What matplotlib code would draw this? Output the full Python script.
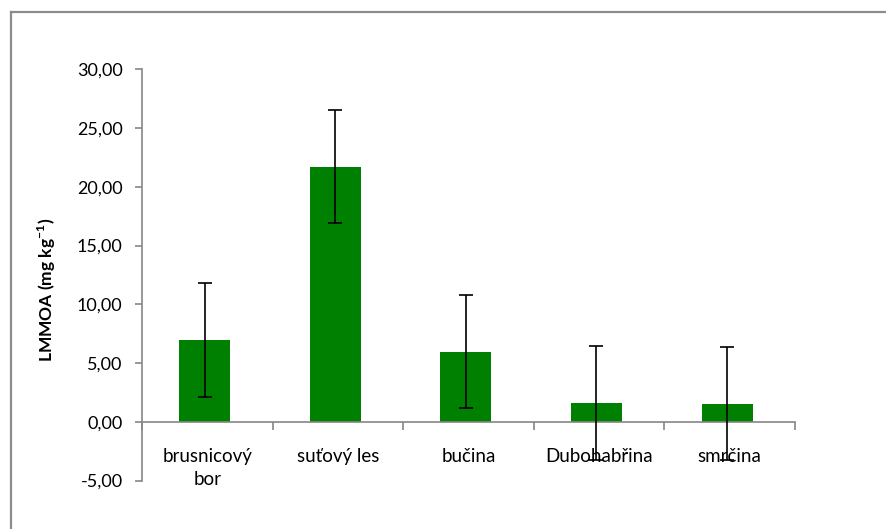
import matplotlib
matplotlib.use("Agg")
import matplotlib.pyplot as plt
from matplotlib.lines import Line2D
import numpy as np

categories = ["brusnicový\nbor", "suťový les", "bučina", "Dubohabřina", "smrčina"]
means = [6.93, 21.70, 5.95, 1.59, 1.55]
errors = [4.85, 4.80, 4.80, 4.87, 4.80]
yticks = [-5, 0, 5, 10, 15, 20, 25, 30]
ylabel = "LMMOA (mg kg$^{\\mathbf{-1}}$)"

plt.rcParams["font.family"] = ["Lato", "DejaVu Sans"]
plt.rcParams["mathtext.fontset"] = "custom"
plt.rcParams["mathtext.bf"] = "Lato:bold"
plt.rcParams["mathtext.rm"] = "Lato"

W, H = 886, 529
fig = plt.figure(figsize=(W / 100, H / 100), dpi=100)
fig.patch.set_facecolor("white")

# outer chart frame (top and left edges visible)
frame_col = "#8c8c8c"
fig.add_artist(Line2D([11 / W, 1.0], [1 - 12 / H, 1 - 12 / H], color=frame_col, lw=1.6))
fig.add_artist(Line2D([11 / W, 11 / W], [1 - 12 / H, 0.0], color=frame_col, lw=1.6))

left, right = 142 / W, 795 / W
bottom, top = 1 - 480.5 / H, 1 - 69.3 / H
ax = fig.add_axes([left, bottom, right - left, top - bottom])

x = np.arange(len(categories))
ax.bar(x - 0.02, means, width=0.39, color="#008000", zorder=2)
ax.errorbar(x - 0.02, means, yerr=errors, fmt="none", ecolor="black",
            elinewidth=1.2, capsize=5, capthick=1.2, zorder=4, clip_on=False)

ax.set_xlim(-0.5, len(categories) - 0.5)
ax.set_ylim(-5, 30)

axis_col = "#868686"
for s in ["top", "right"]:
    ax.spines[s].set_visible(False)
ax.spines["left"].set_color(axis_col)
ax.spines["left"].set_linewidth(1.2)
ax.spines["bottom"].set_position(("data", 0))
ax.spines["bottom"].set_color(axis_col)
ax.spines["bottom"].set_linewidth(1.2)

ax.set_yticks(yticks)
ax.set_yticklabels([f"{v:.2f}".replace(".", ",") for v in yticks], fontsize=13)
ax.tick_params(axis="y", direction="out", length=5, color=axis_col, width=1.2, pad=9)

ax.set_xticks(x)
ax.set_xticklabels(categories, fontsize=13.5, linespacing=1.45, va="top")
ax.tick_params(axis="x", which="major", length=0, pad=19)
ax.set_xticks(np.arange(-0.5, len(categories) + 0.5, 1.0), minor=True)
ax.tick_params(axis="x", which="minor", direction="out", length=6, color=axis_col, width=1.2)

fig.text(47 / W, 1 - 290 / H, ylabel, rotation=90, ha="center", va="center",
         fontsize=12.5, fontweight="bold")

fig.savefig("out.png", dpi=100, facecolor="white")
